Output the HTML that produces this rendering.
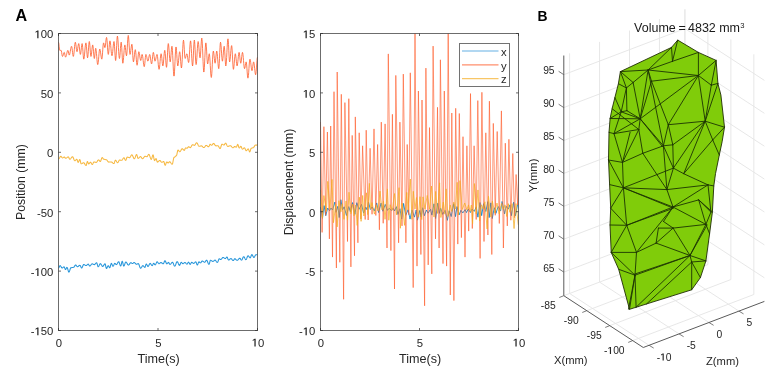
<!DOCTYPE html>
<html><head><meta charset="utf-8"><style>
html,body{margin:0;padding:0;background:#fff;}
body{width:774px;height:374px;overflow:hidden;}
svg{display:block;will-change:transform;}
text{font-family:"Liberation Sans", sans-serif;fill:#262626;}
.tk{font-size:11.3px;}
.lb{font-size:12.3px;}
.o1{fill:transparent;}
.pl{font-size:15.5px;font-weight:bold;fill:#000;}
.t3{font-size:10.3px;}
.l3{font-size:11.2px;}
</style></head><body>
<svg width="774" height="374" viewBox="0 0 774 374">
<clipPath id="cl"><rect x="58.5" y="33.5" width="199.0" height="297.0"/></clipPath><clipPath id="cr"><rect x="320.5" y="33.5" width="198.0" height="297.0"/></clipPath>
<g clip-path="url(#cl)">
<path d="M58.50 268.01 58.82 267.78 59.14 267.19 59.45 266.45 59.77 265.86 60.09 265.63 60.43 265.79 60.78 266.22 61.12 266.82 61.47 267.42 61.81 267.85 62.15 268.01 62.46 267.93 62.77 267.71 63.08 267.40 63.39 267.10 63.70 266.88 64.01 266.79 64.38 267.20 64.75 268.17 65.13 269.15 65.50 269.55 65.85 269.21 66.21 268.41 66.56 267.60 66.92 267.27 67.25 267.59 67.58 268.47 67.91 269.67 68.24 270.87 68.56 271.75 68.89 272.08 69.24 271.78 69.58 270.97 69.93 269.87 70.27 268.77 70.62 267.96 70.96 267.67 71.28 267.66 71.60 267.62 71.93 267.57 72.25 267.51 72.57 267.45 72.89 267.40 73.21 267.36 73.53 267.35 73.84 267.23 74.15 266.90 74.46 266.41 74.76 265.88 75.07 265.39 75.38 265.06 75.69 264.94 76.02 265.11 76.35 265.54 76.69 266.07 77.02 266.50 77.35 266.67 77.68 266.62 78.00 266.47 78.33 266.26 78.65 266.00 78.98 265.74 79.30 265.53 79.63 265.38 79.95 265.33 80.29 265.59 80.63 266.28 80.97 267.12 81.31 267.81 81.65 268.07 81.99 267.83 82.33 267.18 82.68 266.30 83.02 265.41 83.37 264.76 83.71 264.53 84.04 264.57 84.38 264.71 84.71 264.91 85.04 265.13 85.37 265.33 85.70 265.47 86.04 265.52 86.35 265.45 86.67 265.26 86.99 264.98 87.31 264.67 87.63 264.39 87.95 264.20 88.27 264.13 88.62 264.42 88.96 265.11 89.31 265.79 89.66 266.08 89.98 265.99 90.29 265.75 90.61 265.39 90.93 264.96 91.25 264.53 91.56 264.17 91.88 263.93 92.20 263.84 92.50 263.88 92.81 263.99 93.11 264.15 93.41 264.32 93.72 264.48 94.02 264.59 94.33 264.63 94.65 264.53 94.98 264.27 95.30 263.89 95.63 263.47 95.95 263.09 96.28 262.83 96.61 262.74 96.92 263.12 97.23 264.14 97.55 265.40 97.86 266.42 98.17 266.80 98.48 266.65 98.79 266.21 99.10 265.57 99.41 264.87 99.72 264.23 100.03 263.80 100.34 263.64 100.68 263.78 101.02 264.16 101.36 264.72 101.70 265.34 102.04 265.90 102.38 266.29 102.72 266.43 103.05 266.29 103.38 265.93 103.71 265.39 104.04 264.80 104.37 264.27 104.70 263.90 105.03 263.77 105.38 264.47 105.73 266.17 106.08 267.87 106.43 268.57 106.74 268.38 107.04 267.86 107.34 267.15 107.64 266.43 107.94 265.91 108.24 265.72 108.61 266.02 108.97 266.73 109.34 267.45 109.71 267.75 110.04 267.33 110.37 266.24 110.71 264.90 111.04 263.81 111.37 263.39 111.70 263.67 112.03 264.40 112.36 265.30 112.69 266.03 113.02 266.31 113.32 266.11 113.62 265.57 113.92 264.84 114.22 264.10 114.53 263.56 114.83 263.37 115.14 263.49 115.44 263.80 115.75 264.20 116.06 264.51 116.37 264.63 116.69 264.49 117.02 264.09 117.35 263.50 117.67 262.86 118.00 262.28 118.33 261.87 118.65 261.73 118.99 262.01 119.33 262.79 119.67 263.85 120.01 264.91 120.35 265.69 120.69 265.97 121.00 265.51 121.31 264.32 121.62 262.84 121.93 261.65 122.24 261.19 122.62 261.91 122.99 263.65 123.37 265.38 123.74 266.10 124.04 265.90 124.35 265.33 124.65 264.51 124.95 263.60 125.25 262.79 125.56 262.22 125.86 262.02 126.18 262.13 126.51 262.47 126.83 262.97 127.16 263.56 127.48 264.15 127.80 264.65 128.13 264.98 128.45 265.10 128.79 264.98 129.12 264.65 129.46 264.17 129.79 263.64 130.13 263.16 130.46 262.83 130.80 262.71 131.15 262.78 131.51 262.97 131.86 263.21 132.21 263.40 132.57 263.47 132.87 263.38 133.18 263.14 133.49 262.85 133.79 262.61 134.10 262.52 134.41 262.59 134.71 262.78 135.02 263.07 135.32 263.40 135.63 263.74 135.93 264.03 136.23 264.22 136.54 264.28 136.87 264.22 137.21 264.04 137.54 263.83 137.88 263.65 138.21 263.59 138.52 263.76 138.82 264.27 139.12 265.03 139.43 265.92 139.73 266.82 140.03 267.58 140.34 268.09 140.64 268.26 140.96 268.13 141.28 267.77 141.60 267.24 141.92 266.66 142.24 266.13 142.55 265.76 142.87 265.63 143.21 265.75 143.54 266.07 143.88 266.50 144.21 266.93 144.55 267.25 144.88 267.36 145.22 266.88 145.55 265.70 145.89 264.53 146.22 264.05 146.58 264.28 146.93 264.87 147.29 265.61 147.64 266.21 147.99 266.44 148.31 266.29 148.62 265.87 148.93 265.26 149.24 264.58 149.55 263.98 149.86 263.55 150.17 263.40 150.51 263.55 150.84 263.96 151.17 264.51 151.50 265.07 151.83 265.47 152.16 265.62 152.46 265.40 152.77 264.82 153.08 264.11 153.39 263.53 153.69 263.31 154.05 263.55 154.41 264.12 154.77 264.68 155.13 264.92 155.47 264.71 155.80 264.14 156.13 263.36 156.47 262.59 156.80 262.02 157.13 261.81 157.43 261.94 157.73 262.29 158.03 262.78 158.34 263.27 158.64 263.62 158.94 263.76 159.27 263.67 159.60 263.45 159.93 263.14 160.26 262.84 160.59 262.62 160.93 262.53 161.25 262.60 161.58 262.77 161.90 263.03 162.23 263.31 162.55 263.56 162.88 263.74 163.20 263.80 163.56 263.50 163.92 262.72 164.28 261.76 164.63 260.97 164.99 260.67 165.29 260.89 165.59 261.47 165.89 262.27 166.19 263.07 166.49 263.66 166.80 263.87 167.14 263.73 167.49 263.35 167.84 262.89 168.19 262.52 168.54 262.37 168.89 262.67 169.24 263.40 169.58 264.12 169.93 264.42 170.25 264.34 170.56 264.11 170.88 263.77 171.20 263.36 171.51 262.96 171.83 262.62 172.14 262.39 172.46 262.31 172.78 262.50 173.11 263.03 173.44 263.80 173.76 264.66 174.09 265.43 174.41 265.96 174.74 266.15 175.04 265.98 175.35 265.49 175.65 264.76 175.95 263.90 176.25 263.04 176.55 262.31 176.86 261.82 177.16 261.65 177.50 261.84 177.84 262.35 178.18 263.09 178.52 263.91 178.86 264.66 179.20 265.17 179.54 265.35 179.86 265.06 180.18 264.31 180.50 263.37 180.83 262.61 181.15 262.32 181.50 262.45 181.84 262.80 182.19 263.23 182.54 263.57 182.88 263.71 183.23 263.62 183.57 263.40 183.91 263.10 184.25 262.79 184.59 262.57 184.93 262.49 185.23 262.57 185.54 262.81 185.84 263.15 186.14 263.53 186.44 263.87 186.74 264.11 187.04 264.19 187.40 263.89 187.75 263.15 188.10 262.42 188.45 262.11 188.81 262.33 189.17 262.91 189.53 263.62 189.89 264.20 190.25 264.42 190.60 264.11 190.95 263.36 191.29 262.61 191.64 262.29 191.97 262.37 192.30 262.56 192.63 262.83 192.95 263.11 193.28 263.30 193.61 263.38 193.92 263.30 194.23 263.09 194.54 262.79 194.85 262.45 195.16 262.15 195.47 261.94 195.78 261.87 196.09 262.17 196.40 262.95 196.71 263.91 197.01 264.70 197.32 265.00 197.64 264.70 197.96 263.92 198.28 262.95 198.60 262.17 198.92 261.87 199.25 261.96 199.58 262.21 199.91 262.51 200.24 262.75 200.57 262.85 200.89 262.67 201.20 262.21 201.52 261.64 201.83 261.18 202.15 261.01 202.46 261.06 202.78 261.19 203.10 261.39 203.42 261.62 203.74 261.86 204.06 262.06 204.37 262.19 204.69 262.24 205.00 262.10 205.30 261.72 205.61 261.21 205.92 260.69 206.22 260.31 206.53 260.18 206.84 260.33 207.15 260.79 207.45 261.46 207.76 262.26 208.07 263.06 208.38 263.74 208.69 264.19 209.00 264.35 209.37 263.74 209.73 262.27 210.10 260.80 210.47 260.19 210.77 260.24 211.08 260.37 211.39 260.57 211.70 260.80 212.01 261.03 212.32 261.23 212.63 261.36 212.94 261.41 213.28 261.32 213.63 261.09 213.97 260.76 214.32 260.44 214.66 260.21 215.01 260.12 215.34 260.23 215.67 260.56 216.00 261.02 216.33 261.54 216.66 262.01 216.99 262.33 217.32 262.45 217.66 262.20 217.99 261.53 218.32 260.61 218.66 259.69 218.99 259.02 219.32 258.78 219.66 258.88 220.00 259.14 220.34 259.40 220.68 259.51 220.98 259.43 221.29 259.21 221.59 258.87 221.89 258.48 222.19 258.08 222.50 257.75 222.80 257.52 223.10 257.44 223.41 257.50 223.73 257.66 224.04 257.89 224.35 258.15 224.66 258.38 224.97 258.54 225.28 258.60 225.61 258.45 225.94 258.04 226.26 257.55 226.59 257.14 226.91 256.99 227.25 257.28 227.59 258.03 227.93 258.97 228.26 259.72 228.60 260.01 228.93 259.94 229.26 259.74 229.59 259.46 229.92 259.14 230.25 258.86 230.58 258.66 230.91 258.59 231.25 258.68 231.58 258.96 231.92 259.36 232.25 259.80 232.58 260.20 232.92 260.47 233.25 260.57 233.62 260.30 233.99 259.67 234.37 259.03 234.74 258.77 235.04 258.82 235.35 258.99 235.66 259.23 235.97 259.52 236.27 259.81 236.58 260.06 236.89 260.22 237.20 260.28 237.52 260.20 237.84 259.98 238.17 259.64 238.49 259.25 238.81 258.85 239.13 258.52 239.46 258.30 239.78 258.22 240.13 258.40 240.47 258.87 240.82 259.45 241.17 259.92 241.51 260.10 241.83 259.93 242.14 259.46 242.46 258.77 242.77 258.01 243.09 257.33 243.40 256.86 243.72 256.69 244.03 256.84 244.34 257.25 244.65 257.85 244.96 258.51 245.27 259.11 245.58 259.53 245.89 259.67 246.20 259.48 246.52 258.94 246.83 258.17 247.15 257.30 247.46 256.52 247.78 255.99 248.09 255.79 248.43 255.93 248.77 256.31 249.11 256.83 249.45 257.35 249.79 257.73 250.13 257.87 250.47 257.56 250.81 256.74 251.15 255.72 251.49 254.90 251.84 254.59 252.14 254.73 252.44 255.14 252.74 255.72 253.04 256.36 253.34 256.94 253.64 257.35 253.94 257.49 254.26 257.31 254.58 256.81 254.90 256.12 255.22 255.44 255.55 254.94 255.87 254.76 256.19 254.76 256.52 254.77 256.85 254.79 257.17 254.80 257.50 254.80" fill="none" stroke="#0e8ad6" stroke-width="1.05" stroke-linejoin="round" opacity="0.9"/>
<path d="M58.50 42.21 58.81 43.40 59.12 46.28 59.44 49.16 59.75 50.35 60.02 50.35 60.29 50.35 60.56 50.35 60.83 50.35 61.10 50.35 61.38 50.93 61.65 52.46 61.92 54.34 62.19 55.87 62.46 56.45 62.71 56.25 62.97 55.69 63.22 54.87 63.47 53.97 63.72 53.15 63.97 52.59 64.22 52.38 64.50 52.84 64.77 54.02 65.04 55.49 65.31 56.68 65.58 57.13 65.84 56.93 66.09 56.34 66.35 55.44 66.61 54.33 66.86 53.15 67.12 52.04 67.38 51.14 67.63 50.55 67.89 50.35 68.16 50.80 68.43 51.99 68.70 53.46 68.97 54.64 69.24 55.10 69.50 54.83 69.76 54.07 70.01 52.89 70.27 51.45 70.53 49.92 70.78 48.48 71.04 47.31 71.29 46.54 71.55 46.28 71.80 46.78 72.05 48.19 72.31 50.23 72.56 52.50 72.81 54.54 73.06 55.95 73.31 56.45 73.57 55.91 73.82 54.37 74.08 52.06 74.33 49.33 74.59 46.61 74.84 44.30 75.09 42.75 75.35 42.21 75.62 42.85 75.89 44.58 76.16 46.96 76.43 49.33 76.71 51.07 76.98 51.71 77.23 51.30 77.48 50.17 77.73 48.54 77.98 46.73 78.24 45.10 78.49 43.97 78.74 43.57 79.01 44.29 79.28 46.28 79.55 48.99 79.83 51.71 80.10 53.69 80.37 54.42 80.62 53.88 80.87 52.38 81.12 50.20 81.38 47.78 81.63 45.61 81.88 44.10 82.13 43.57 82.40 44.61 82.67 47.47 82.95 51.37 83.22 55.27 83.49 58.12 83.76 59.17 84.03 58.55 84.30 56.78 84.57 54.14 84.84 51.03 85.12 47.91 85.39 45.27 85.66 43.51 85.93 42.89 86.20 43.89 86.47 46.62 86.74 50.35 87.02 54.08 87.29 56.81 87.56 57.81 87.81 57.00 88.06 54.75 88.31 51.48 88.57 47.86 88.82 44.60 89.07 42.34 89.32 41.53 89.59 42.53 89.86 45.26 90.14 48.99 90.41 52.72 90.68 55.45 90.95 56.45 91.20 55.88 91.45 54.28 91.71 51.97 91.96 49.41 92.21 47.09 92.46 45.49 92.71 44.92 92.98 45.83 93.26 48.31 93.53 51.71 93.80 55.10 94.07 57.58 94.34 58.49 94.61 57.52 94.88 54.97 95.16 51.83 95.43 49.29 95.70 48.31 95.95 48.93 96.21 50.70 96.46 53.34 96.72 56.45 96.97 59.57 97.22 62.21 97.48 63.97 97.73 64.59 97.99 64.00 98.24 62.31 98.50 59.78 98.75 56.79 99.00 53.81 99.26 51.28 99.51 49.59 99.77 48.99 100.02 49.38 100.28 50.48 100.53 52.13 100.78 54.08 101.04 56.03 101.29 57.68 101.55 58.78 101.80 59.17 102.05 58.36 102.31 56.10 102.56 52.84 102.81 49.22 103.06 45.95 103.31 43.69 103.57 42.89 103.84 43.34 104.11 44.53 104.38 46.00 104.65 47.18 104.92 47.64 105.19 46.95 105.47 45.09 105.74 42.55 106.01 40.00 106.28 38.14 106.55 37.46 106.80 38.30 107.05 40.65 107.31 44.05 107.56 47.83 107.81 51.23 108.06 53.58 108.31 54.42 108.59 53.51 108.86 51.03 109.13 47.64 109.40 44.24 109.67 41.76 109.94 40.85 110.20 41.42 110.45 43.04 110.70 45.46 110.96 48.31 111.21 51.17 111.47 53.59 111.72 55.21 111.98 55.78 112.23 55.23 112.49 53.69 112.74 51.38 112.99 48.65 113.25 45.93 113.50 43.62 113.76 42.07 114.01 41.53 114.28 42.80 114.55 46.28 114.83 51.03 115.10 55.78 115.37 59.25 115.64 60.52 115.89 59.31 116.14 55.93 116.40 51.03 116.65 45.60 116.90 40.70 117.15 37.31 117.40 36.10 117.66 36.96 117.91 39.38 118.17 43.01 118.42 47.30 118.67 51.58 118.93 55.21 119.18 57.64 119.44 58.49 119.69 57.68 119.94 55.42 120.19 52.16 120.45 48.54 120.70 45.27 120.95 43.02 121.20 42.21 121.47 43.62 121.74 47.47 122.02 52.72 122.29 57.98 122.56 61.83 122.83 63.24 123.08 62.54 123.34 60.55 123.59 57.58 123.85 54.08 124.10 50.58 124.36 47.60 124.61 45.62 124.86 44.92 125.14 45.65 125.41 47.64 125.68 50.35 125.95 53.06 126.22 55.05 126.49 55.78 126.74 54.77 127.00 51.94 127.25 47.86 127.50 43.34 127.75 39.26 128.00 36.43 128.26 35.43 128.51 36.37 128.76 39.00 129.01 42.81 129.26 47.04 129.52 50.84 129.77 53.48 130.02 54.42 130.29 53.91 130.56 52.50 130.83 50.46 131.10 48.20 131.38 46.16 131.65 44.75 131.92 44.24 132.22 45.93 132.52 50.34 132.81 55.79 133.11 60.20 133.41 61.88 133.68 61.28 133.95 59.58 134.22 57.13 134.50 54.42 134.77 51.97 135.04 50.28 135.31 49.67 135.56 50.44 135.81 52.61 136.07 55.74 136.32 59.21 136.57 62.33 136.82 64.50 137.07 65.27 137.33 64.60 137.58 62.72 137.83 60.00 138.08 56.98 138.33 54.26 138.59 52.38 138.84 51.71 139.11 52.14 139.38 53.37 139.65 55.13 139.92 57.10 140.19 58.86 140.47 60.09 140.74 60.52 141.01 59.94 141.28 58.41 141.55 56.53 141.82 55.00 142.09 54.42 142.36 54.88 142.64 56.21 142.91 58.19 143.18 60.52 143.45 62.86 143.72 64.84 143.99 66.16 144.26 66.63 144.53 65.81 144.81 63.58 145.08 60.52 145.35 57.47 145.62 55.24 145.89 54.42 146.15 54.68 146.40 55.41 146.65 56.51 146.91 57.81 147.16 59.11 147.42 60.21 147.67 60.94 147.93 61.20 148.18 60.87 148.43 59.92 148.68 58.56 148.93 57.06 149.19 55.70 149.44 54.75 149.69 54.42 149.96 54.89 150.23 56.21 150.50 58.11 150.78 60.22 151.05 62.13 151.32 63.44 151.59 63.91 151.84 63.34 152.09 61.74 152.34 59.43 152.60 56.87 152.85 54.55 153.10 52.95 153.35 52.38 153.63 52.97 153.90 54.59 154.18 56.79 154.45 59.00 154.73 60.61 155.00 61.20 155.25 60.94 155.51 60.21 155.76 59.11 156.02 57.81 156.27 56.51 156.53 55.41 156.78 54.68 157.03 54.42 157.29 54.99 157.54 56.60 157.80 59.02 158.05 61.88 158.31 64.74 158.56 67.16 158.82 68.77 159.07 69.34 159.32 68.75 159.58 67.06 159.83 64.53 160.09 61.54 160.34 58.56 160.60 56.02 160.85 54.33 161.10 53.74 161.36 54.34 161.61 56.04 161.86 58.49 162.11 61.20 162.36 63.65 162.62 65.35 162.87 65.95 163.14 65.18 163.41 63.01 163.68 59.88 163.95 56.41 164.22 53.29 164.50 51.12 164.77 50.35 165.02 51.19 165.27 53.54 165.52 56.94 165.78 60.71 166.03 64.11 166.28 66.47 166.53 67.31 166.78 66.13 167.03 62.84 167.29 58.08 167.54 52.79 167.79 48.04 168.04 44.74 168.29 43.57 168.57 44.47 168.84 47.01 169.11 50.69 169.38 54.76 169.65 58.43 169.92 60.97 170.19 61.88 170.45 61.11 170.70 58.94 170.95 55.82 171.20 52.34 171.45 49.22 171.71 47.05 171.96 46.28 172.21 47.41 172.47 50.65 172.72 55.49 172.97 61.20 173.23 66.91 173.48 71.75 173.74 74.99 173.99 76.12 174.25 75.01 174.50 71.85 174.76 67.12 175.01 61.54 175.26 55.96 175.52 51.23 175.77 48.07 176.03 46.96 176.28 47.90 176.53 50.53 176.78 54.34 177.03 58.57 177.29 62.37 177.54 65.01 177.79 65.95 178.06 65.24 178.33 63.27 178.60 60.41 178.88 57.24 179.15 54.39 179.42 52.41 179.69 51.71 179.94 52.51 180.19 54.77 180.45 58.03 180.70 61.66 180.95 64.92 181.20 67.18 181.45 67.98 181.71 66.93 181.96 63.91 182.22 59.40 182.47 54.08 182.73 48.76 182.98 44.25 183.23 41.23 183.49 40.17 183.76 41.40 184.03 44.75 184.30 49.33 184.57 53.91 184.84 57.26 185.12 58.49 185.37 58.25 185.62 57.59 185.87 56.64 186.12 55.59 186.38 54.63 186.63 53.98 186.88 53.74 187.13 54.18 187.38 55.40 187.64 57.17 187.89 59.13 188.14 60.90 188.39 62.12 188.64 62.56 188.91 61.48 189.19 58.47 189.46 54.12 189.73 49.29 190.00 44.94 190.27 41.93 190.54 40.85 190.80 41.81 191.05 44.53 191.31 48.60 191.56 53.40 191.81 58.20 192.07 62.27 192.32 64.99 192.58 65.95 192.83 64.67 193.08 61.10 193.33 55.93 193.59 50.19 193.84 45.03 194.09 41.45 194.34 40.17 194.59 41.38 194.84 44.77 195.10 49.67 195.35 55.10 195.60 60.00 195.85 63.38 196.10 64.59 196.36 63.72 196.61 61.22 196.87 57.47 197.12 53.06 197.38 48.65 197.63 44.91 197.89 42.41 198.14 41.53 198.41 42.34 198.68 44.60 198.95 47.86 199.22 51.48 199.50 54.75 199.77 57.00 200.04 57.81 200.29 56.84 200.54 54.11 200.79 50.16 201.05 45.79 201.30 41.84 201.55 39.11 201.80 38.14 202.06 39.43 202.31 43.11 202.57 48.61 202.82 55.10 203.07 61.59 203.33 67.09 203.58 70.76 203.84 72.05 204.09 70.94 204.35 67.78 204.60 63.05 204.85 57.47 205.11 51.89 205.36 47.16 205.62 44.00 205.87 42.89 206.12 43.93 206.38 46.85 206.63 51.06 206.88 55.74 207.13 59.96 207.38 62.87 207.64 63.91 207.91 63.23 208.18 61.37 208.45 58.83 208.72 56.28 208.99 54.42 209.26 53.74 209.52 54.64 209.77 57.22 210.03 61.07 210.28 65.61 210.54 70.15 210.79 74.00 211.04 76.58 211.30 77.48 211.55 76.47 211.81 73.61 212.06 69.32 212.32 64.25 212.57 59.19 212.82 54.90 213.08 52.03 213.33 51.03 213.59 51.63 213.84 53.33 214.09 55.77 214.34 58.49 214.59 60.94 214.84 62.63 215.10 63.24 215.37 62.42 215.64 60.18 215.91 57.13 216.18 54.08 216.45 51.84 216.72 51.03 216.98 51.70 217.23 53.61 217.49 56.47 217.74 59.84 218.00 63.22 218.25 66.08 218.51 67.99 218.76 68.66 219.01 67.35 219.26 63.68 219.52 58.38 219.77 52.49 220.02 47.19 220.27 43.52 220.52 42.21 220.79 43.15 221.07 45.78 221.34 49.59 221.61 53.82 221.88 57.63 222.15 60.26 222.42 61.20 222.67 60.46 222.93 58.39 223.18 55.40 223.43 52.08 223.68 49.09 223.93 47.02 224.19 46.28 224.46 47.60 224.73 51.20 225.00 56.11 225.27 61.03 225.54 64.63 225.81 65.95 226.09 64.92 226.36 61.98 226.63 57.58 226.90 52.38 227.17 47.19 227.44 42.79 227.71 39.85 227.98 38.82 228.26 40.36 228.53 44.58 228.80 50.35 229.07 56.11 229.34 60.33 229.61 61.88 229.87 61.26 230.12 59.50 230.38 56.86 230.63 53.74 230.88 50.63 231.14 47.98 231.39 46.22 231.65 45.60 231.90 46.78 232.15 50.07 232.40 54.83 232.66 60.11 232.91 64.87 233.16 68.17 233.41 69.34 233.68 68.57 233.95 66.40 234.22 63.28 234.50 59.80 234.77 56.68 235.04 54.51 235.31 53.74 235.56 54.34 235.81 56.04 236.07 58.49 236.32 61.20 236.57 63.65 236.82 65.35 237.07 65.95 237.33 65.43 237.58 63.96 237.84 61.76 238.09 59.17 238.35 56.57 238.60 54.37 238.85 52.90 239.11 52.38 239.38 53.11 239.65 55.10 239.92 57.81 240.19 60.52 240.47 62.51 240.74 63.24 240.99 62.70 241.24 61.19 241.49 59.02 241.74 56.60 242.00 54.43 242.25 52.92 242.50 52.38 242.75 53.00 243.01 54.77 243.26 57.41 243.52 60.52 243.77 63.64 244.03 66.28 244.28 68.04 244.53 68.66 244.81 68.21 245.08 66.97 245.35 65.27 245.62 63.58 245.89 62.33 246.16 61.88 246.41 62.69 246.67 64.94 246.92 68.21 247.17 71.83 247.42 75.09 247.67 77.35 247.93 78.16 248.18 77.44 248.44 75.38 248.69 72.30 248.94 68.66 249.20 65.03 249.45 61.95 249.71 59.89 249.96 59.17 250.22 59.61 250.47 60.86 250.72 62.73 250.98 64.93 251.23 67.14 251.49 69.01 251.74 70.26 252.00 70.70 252.27 70.11 252.54 68.49 252.81 66.29 253.08 64.08 253.35 62.47 253.62 61.88 253.88 62.37 254.13 63.77 254.39 65.86 254.64 68.32 254.90 70.79 255.15 72.88 255.40 74.28 255.66 74.77 255.92 73.89 256.18 71.45 256.45 67.91 256.71 63.99 256.97 60.45 257.24 58.01 257.50 57.13" fill="none" stroke="#ff5a28" stroke-width="1.0" stroke-linejoin="round" opacity="0.8"/>
<path d="M58.50 158.99 58.84 158.86 59.18 158.48 59.52 157.95 59.85 157.35 60.19 156.81 60.53 156.44 60.87 156.31 61.20 156.46 61.53 156.87 61.86 157.37 62.20 157.77 62.53 157.92 62.89 157.84 63.24 157.60 63.60 157.32 63.96 157.08 64.32 156.99 64.65 157.19 64.98 157.66 65.32 158.13 65.65 158.33 65.98 158.27 66.31 158.11 66.63 157.87 66.96 157.59 67.29 157.31 67.62 157.08 67.95 156.92 68.28 156.86 68.60 157.09 68.91 157.70 69.23 158.44 69.55 159.05 69.87 159.28 70.19 159.18 70.52 158.91 70.84 158.50 71.17 158.01 71.49 157.53 71.81 157.12 72.14 156.85 72.46 156.75 72.77 156.90 73.07 157.34 73.37 157.99 73.67 158.76 73.98 159.53 74.28 160.19 74.58 160.62 74.88 160.78 75.21 160.67 75.53 160.40 75.85 160.02 76.18 159.65 76.50 159.37 76.82 159.27 77.16 159.72 77.50 160.81 77.84 161.90 78.18 162.35 78.50 162.08 78.83 161.37 79.16 160.49 79.49 159.78 79.81 159.51 80.15 160.14 80.49 161.67 80.83 163.19 81.17 163.83 81.48 163.79 81.78 163.67 82.09 163.49 82.40 163.28 82.70 163.07 83.01 162.89 83.32 162.77 83.62 162.73 83.93 162.83 84.25 163.13 84.56 163.58 84.87 164.11 85.18 164.63 85.49 165.08 85.80 165.38 86.11 165.49 86.44 164.90 86.76 163.47 87.08 162.05 87.41 161.46 87.72 161.82 88.04 162.68 88.36 163.53 88.68 163.89 88.99 163.78 89.30 163.48 89.61 163.07 89.92 162.66 90.23 162.36 90.54 162.25 90.88 162.47 91.22 163.05 91.57 163.76 91.91 164.33 92.25 164.55 92.59 164.30 92.93 163.65 93.27 162.84 93.61 162.19 93.95 161.94 94.27 161.96 94.58 162.03 94.90 162.12 95.22 162.22 95.54 162.32 95.85 162.38 96.17 162.40 96.51 162.28 96.84 161.93 97.18 161.42 97.52 160.86 97.85 160.35 98.19 160.00 98.53 159.88 98.87 160.03 99.21 160.44 99.55 160.94 99.89 161.35 100.23 161.50 100.56 161.24 100.89 160.52 101.21 159.54 101.54 158.56 101.87 157.84 102.19 157.58 102.51 157.74 102.83 158.16 103.15 158.68 103.46 159.10 103.78 159.26 104.10 159.28 104.42 159.33 104.73 159.41 105.05 159.51 105.37 159.60 105.69 159.69 106.01 159.74 106.32 159.76 106.63 159.85 106.93 160.10 107.23 160.48 107.53 160.93 107.84 161.38 108.14 161.76 108.44 162.01 108.74 162.10 109.06 162.10 109.39 162.09 109.71 162.07 110.03 162.05 110.35 162.03 110.67 162.02 110.99 162.01 111.31 162.00 111.63 162.06 111.95 162.23 112.26 162.49 112.58 162.79 112.90 163.09 113.22 163.35 113.54 163.52 113.86 163.58 114.17 163.26 114.49 162.42 114.81 161.38 115.13 160.54 115.45 160.21 115.76 160.34 116.08 160.69 116.39 161.19 116.70 161.74 117.01 162.24 117.33 162.59 117.64 162.72 117.96 162.54 118.27 162.05 118.59 161.39 118.91 160.73 119.22 160.25 119.54 160.07 119.85 160.08 120.15 160.11 120.46 160.15 120.76 160.19 121.07 160.23 121.38 160.25 121.68 160.26 122.00 160.14 122.31 159.79 122.63 159.29 122.95 158.73 123.26 158.23 123.58 157.88 123.89 157.76 124.25 158.01 124.61 158.67 124.96 159.48 125.32 160.13 125.68 160.39 125.98 160.07 126.29 159.26 126.59 158.25 126.90 157.43 127.21 157.12 127.54 157.14 127.88 157.22 128.22 157.33 128.55 157.44 128.89 157.55 129.23 157.62 129.56 157.65 129.88 157.51 130.20 157.12 130.53 156.55 130.85 155.92 131.17 155.35 131.49 154.96 131.81 154.82 132.12 154.97 132.44 155.41 132.76 156.05 133.08 156.82 133.40 157.58 133.72 158.23 134.04 158.66 134.36 158.81 134.68 158.59 135.00 157.99 135.32 157.11 135.65 156.13 135.97 155.25 136.29 154.64 136.61 154.43 136.98 155.01 137.35 156.41 137.72 157.81 138.09 158.40 138.39 158.33 138.70 158.13 139.00 157.84 139.30 157.50 139.60 157.16 139.91 156.87 140.21 156.68 140.51 156.61 140.85 156.75 141.19 157.12 141.52 157.64 141.86 158.15 142.20 158.53 142.54 158.66 142.86 158.57 143.18 158.32 143.50 157.93 143.82 157.48 144.15 157.02 144.47 156.64 144.79 156.38 145.11 156.29 145.41 156.32 145.72 156.39 146.02 156.49 146.32 156.59 146.63 156.66 146.93 156.69 147.24 156.53 147.54 156.10 147.85 155.52 148.16 154.93 148.46 154.50 148.77 154.35 149.09 154.54 149.41 155.08 149.72 155.90 150.04 156.86 150.36 157.82 150.68 158.64 151.00 159.19 151.31 159.38 151.66 158.94 152.00 157.81 152.34 156.41 152.68 155.27 153.03 154.84 153.33 155.39 153.64 156.83 153.94 158.62 154.25 160.06 154.55 160.61 154.92 160.31 155.29 159.57 155.66 158.84 156.03 158.54 156.38 159.06 156.72 160.32 157.06 161.58 157.40 162.10 157.74 162.02 158.09 161.80 158.43 161.47 158.77 161.11 159.11 160.78 159.46 160.55 159.80 160.47 160.13 160.59 160.46 160.93 160.79 161.38 161.12 161.84 161.46 162.17 161.79 162.29 162.11 162.24 162.43 162.09 162.76 161.90 163.08 161.70 163.40 161.55 163.73 161.50 164.08 162.06 164.43 163.41 164.79 164.76 165.14 165.32 165.47 165.00 165.80 164.16 166.13 163.12 166.46 162.28 166.79 161.95 167.12 162.10 167.46 162.46 167.80 162.82 168.13 162.97 168.44 162.84 168.75 162.52 169.05 162.12 169.36 161.80 169.67 161.67 169.98 161.77 170.30 162.06 170.62 162.48 170.93 162.98 171.25 163.47 171.57 163.90 171.88 164.18 172.20 164.28 172.52 163.81 172.84 162.53 173.16 160.77 173.48 159.02 173.80 157.74 174.12 157.27 174.43 157.20 174.75 157.00 175.06 156.70 175.37 156.38 175.68 156.08 175.99 155.88 176.30 155.81 176.65 155.26 176.99 153.83 177.34 152.06 177.68 150.63 178.03 150.08 178.33 150.20 178.63 150.51 178.94 150.93 179.24 151.36 179.54 151.67 179.84 151.78 180.17 151.63 180.49 151.20 180.82 150.59 181.14 149.91 181.47 149.29 181.79 148.86 182.12 148.71 182.43 148.79 182.75 149.02 183.06 149.36 183.38 149.72 183.69 150.05 184.01 150.28 184.33 150.36 184.64 150.00 184.96 149.13 185.28 148.26 185.60 147.90 185.97 147.95 186.34 148.06 186.70 148.17 187.07 148.21 187.38 148.07 187.69 147.68 188.00 147.21 188.31 146.83 188.62 146.68 188.93 146.77 189.24 147.02 189.56 147.32 189.87 147.56 190.18 147.65 190.49 147.54 190.80 147.22 191.11 146.75 191.42 146.18 191.73 145.62 192.04 145.14 192.35 144.82 192.66 144.71 193.01 144.78 193.37 144.95 193.72 145.15 194.07 145.32 194.43 145.39 194.74 145.26 195.05 144.89 195.37 144.37 195.68 143.78 195.99 143.25 196.31 142.89 196.62 142.76 196.94 142.90 197.26 143.28 197.58 143.86 197.90 144.55 198.22 145.23 198.54 145.81 198.86 146.19 199.17 146.33 199.49 146.31 199.81 146.24 200.13 146.14 200.45 146.03 200.77 145.93 201.09 145.86 201.41 145.84 201.75 145.93 202.09 146.16 202.43 146.51 202.77 146.89 203.12 147.24 203.46 147.48 203.80 147.56 204.11 147.48 204.41 147.24 204.72 146.89 205.03 146.48 205.33 146.06 205.64 145.71 205.95 145.48 206.25 145.39 206.58 145.46 206.90 145.65 207.22 145.93 207.54 146.24 207.87 146.51 208.19 146.70 208.51 146.77 208.85 146.54 209.19 145.92 209.53 145.15 209.87 144.54 210.21 144.30 210.55 144.44 210.88 144.78 211.21 145.13 211.55 145.27 211.88 145.14 212.21 144.80 212.54 144.33 212.88 143.87 213.21 143.52 213.54 143.40 213.84 143.49 214.14 143.76 214.44 144.16 214.74 144.64 215.04 145.11 215.34 145.51 215.64 145.78 215.94 145.87 216.28 145.87 216.62 145.85 216.96 145.84 217.30 145.82 217.63 145.81 217.97 145.80 218.32 145.98 218.67 146.48 219.01 147.16 219.36 147.84 219.71 148.34 220.05 148.52 220.39 148.23 220.72 147.43 221.05 146.35 221.38 145.26 221.71 144.47 222.04 144.18 222.36 144.24 222.68 144.41 223.01 144.63 223.33 144.86 223.65 145.02 223.98 145.08 224.30 144.90 224.62 144.41 224.94 143.81 225.26 143.33 225.58 143.14 225.90 143.31 226.21 143.76 226.52 144.41 226.83 145.13 227.14 145.78 227.46 146.23 227.77 146.40 228.10 146.37 228.42 146.29 228.75 146.18 229.08 146.04 229.41 145.91 229.73 145.80 230.06 145.72 230.39 145.69 230.71 145.77 231.03 145.99 231.35 146.33 231.67 146.72 232.00 147.11 232.32 147.44 232.64 147.67 232.96 147.75 233.27 147.66 233.58 147.42 233.90 147.09 234.21 146.77 234.52 146.53 234.83 146.44 235.17 146.56 235.50 146.84 235.83 147.12 236.16 147.24 236.48 146.97 236.81 146.27 237.13 145.40 237.45 144.70 237.77 144.43 238.14 144.96 238.51 146.24 238.89 147.52 239.26 148.05 239.58 147.88 239.90 147.44 240.22 146.90 240.55 146.46 240.87 146.30 241.17 146.57 241.48 147.29 241.79 148.18 242.09 148.90 242.40 149.18 242.72 149.09 243.05 148.85 243.37 148.52 243.70 148.19 244.02 147.95 244.35 147.87 244.66 148.06 244.98 148.58 245.29 149.29 245.61 150.00 245.92 150.53 246.24 150.72 246.56 150.59 246.88 150.26 247.20 149.79 247.53 149.33 247.85 149.00 248.17 148.87 248.48 149.16 248.79 149.90 249.10 150.82 249.40 151.57 249.71 151.86 250.03 151.50 250.36 150.58 250.68 149.44 251.00 148.52 251.32 148.17 251.66 148.13 252.01 148.03 252.35 147.90 252.69 147.80 253.03 147.76 253.35 147.65 253.67 147.36 253.99 146.92 254.30 146.40 254.62 145.88 254.94 145.44 255.26 145.15 255.58 145.05 255.88 145.06 256.18 145.09 256.48 145.12 256.78 145.15 257.08 145.16 257.29 144.83 257.50 144.50" fill="none" stroke="#f5ac1e" stroke-width="1.05" stroke-linejoin="round" opacity="0.85"/>
</g>
<g clip-path="url(#cr)">
<path d="M320.50 207.19 322.48 218.22 324.05 205.56 325.75 215.69 327.70 208.03 329.61 210.78 330.90 208.04 332.58 210.04 334.83 202.07 336.09 212.29 337.89 206.24 339.21 217.56 340.83 199.70 342.60 209.82 344.16 206.80 346.45 215.45 348.75 206.54 350.37 211.73 352.54 202.58 354.88 214.30 356.79 202.69 359.03 209.33 361.55 204.40 363.62 213.09 365.79 207.00 367.12 209.90 368.52 202.11 370.37 209.49 372.14 206.91 374.36 210.80 376.71 202.93 378.55 212.53 381.10 203.05 382.89 211.23 385.25 204.42 387.40 210.37 389.21 208.27 391.15 210.42 393.24 208.39 394.57 210.93 396.35 206.67 397.91 214.45 399.94 208.70 401.67 219.07 403.56 203.43 405.69 215.39 408.09 209.73 410.04 219.10 412.00 210.02 414.47 217.12 416.20 210.00 417.46 220.17 419.79 210.36 421.23 217.10 422.65 207.71 424.36 215.71 426.44 209.99 428.06 213.17 430.56 209.17 431.87 215.14 433.96 203.83 435.62 218.56 437.74 203.24 439.41 213.36 440.65 208.25 442.67 214.36 445.08 210.39 447.37 220.34 449.18 210.78 451.17 216.55 453.66 203.75 455.49 216.61 456.98 206.58 459.25 214.80 460.93 210.19 462.74 213.03 465.17 209.57 466.42 212.64 468.26 209.05 470.45 212.48 471.93 209.07 474.23 211.36 476.29 206.78 477.91 217.16 480.02 202.56 481.67 215.64 483.58 203.71 485.83 211.46 487.86 201.62 489.22 217.57 490.82 202.85 492.29 218.52 494.25 207.71 496.01 213.27 498.14 206.49 500.63 210.94 502.10 201.46 504.57 213.89 506.10 206.31 508.32 209.11 509.92 204.84 511.36 215.66 513.67 202.17 515.34 215.80 517.60 204.76" fill="none" stroke="#0b80c8" stroke-width="1.0" stroke-linejoin="round" opacity="0.85"/>
<path d="M320.50 122.00 322.10 232.40 323.90 126.70 325.65 215.29 327.40 132.00 329.40 238.90 330.70 126.00 332.50 257.10 334.00 91.70 336.40 268.00 337.20 72.00 339.80 262.30 341.30 94.30 343.60 299.30 344.90 102.60 347.50 241.50 348.80 98.70 350.90 266.90 352.20 135.40 354.50 255.80 355.30 116.90 357.90 242.80 359.20 132.80 360.90 218.99 362.60 145.80 365.20 219.50 366.20 130.20 368.15 220.01 370.10 148.30 372.05 214.29 374.00 128.90 375.80 215.48 377.60 144.50 379.40 229.80 381.30 122.10 383.20 223.28 385.10 123.90 387.00 248.00 388.30 53.90 390.90 250.60 392.40 114.30 394.50 289.00 395.80 75.40 398.60 242.80 399.90 122.10 402.00 225.90 403.30 74.10 405.90 242.80 407.20 144.50 408.75 214.70 410.30 72.80 413.20 287.60 415.00 33.50 417.00 266.10 418.40 91.00 420.90 254.50 422.00 100.00 424.60 305.80 425.90 68.10 428.20 264.90 429.50 127.60 431.80 273.90 433.10 46.10 435.50 238.90 437.50 107.30 439.10 248.00 440.40 59.80 443.00 263.60 444.30 91.00 446.60 266.10 448.20 33.50 450.30 295.00 451.80 113.00 453.90 300.60 455.70 108.30 457.80 244.10 459.30 113.50 461.40 237.60 463.00 136.70 465.00 257.10 466.90 145.80 468.70 231.10 470.50 93.60 472.30 228.50 474.10 145.80 476.20 219.50 477.80 100.60 480.10 258.40 481.90 92.30 484.00 241.50 485.80 132.80 487.90 235.00 489.40 101.20 491.80 254.50 493.30 123.40 495.25 215.30 497.20 131.50 499.30 223.48 501.40 110.90 503.40 248.00 505.30 143.20 507.30 225.90 508.90 139.30 510.85 220.22 512.80 153.50 514.45 217.69 516.10 174.50 517.60 205.00 519.50 150.00" fill="none" stroke="#ff5a28" stroke-width="1.0" stroke-linejoin="round" opacity="0.62"/>
<path d="M320.50 189.90 322.53 217.79 323.88 195.57 326.40 211.54 327.78 181.33 329.90 209.41 332.02 179.41 333.53 222.69 335.68 204.05 337.15 226.87 338.83 200.70 340.93 211.79 342.16 203.65 344.01 219.39 346.04 200.94 347.52 220.18 349.00 192.23 350.88 213.81 352.62 204.22 354.07 215.89 355.67 205.00 357.15 225.42 359.32 197.15 361.08 221.35 362.66 195.49 363.90 216.00 366.42 192.82 367.75 214.67 369.39 183.37 370.65 209.00 372.00 202.59 374.40 214.07 376.50 204.97 377.96 210.97 380.02 191.13 382.01 209.94 383.48 201.11 385.04 219.35 387.45 188.90 388.84 220.26 390.09 204.68 392.25 210.32 394.57 193.56 396.65 214.88 399.08 187.64 400.35 228.27 402.15 203.22 404.53 225.33 406.78 192.38 408.02 209.91 410.32 179.09 411.92 219.38 413.30 191.29 415.00 209.04 416.46 197.52 418.32 217.13 420.01 196.66 421.73 219.62 422.97 196.89 424.97 209.02 427.21 195.44 429.70 209.36 431.49 186.10 433.97 217.07 435.66 191.44 437.49 213.45 439.62 182.84 440.86 217.49 443.30 202.01 444.84 214.18 446.11 188.87 447.98 216.47 450.24 205.00 451.72 211.46 453.76 202.14 455.35 209.00 457.15 182.33 458.41 214.87 459.91 180.59 462.21 209.50 464.72 203.01 466.86 209.80 468.48 204.94 470.10 211.36 471.36 205.00 472.60 223.72 474.38 183.54 476.24 213.95 477.96 189.94 479.65 220.98 481.39 204.72 483.17 209.00 484.91 201.78 487.08 228.94 488.51 196.26 490.85 216.98 492.39 201.15 494.85 213.17 496.97 203.04 499.25 214.02 501.52 203.42 503.05 209.33 505.07 204.90 506.76 216.50 508.35 203.66 509.89 212.32 512.12 203.61 514.05 228.55 515.94 203.54 518.28 224.75" fill="none" stroke="#f5ac1e" stroke-width="0.9" stroke-linejoin="round" opacity="0.8"/>
</g>
<rect x="58.5" y="33.5" width="199.0" height="297.0" fill="none" stroke="#262626" stroke-width="1" opacity="0.68"/>
<path d="M58.5 33.50h2.5M257.5 33.50h-2.5" stroke="#262626" stroke-width="1" opacity="0.68"/>
<text x="53.40" y="38.30" text-anchor="end" class="tk"><tspan class="o1">1</tspan>00</text>
<path d="M58.5 92.90h2.5M257.5 92.90h-2.5" stroke="#262626" stroke-width="1" opacity="0.68"/>
<text x="53.40" y="97.70" text-anchor="end" class="tk">50</text>
<path d="M58.5 152.30h2.5M257.5 152.30h-2.5" stroke="#262626" stroke-width="1" opacity="0.68"/>
<text x="53.40" y="157.10" text-anchor="end" class="tk">0</text>
<path d="M58.5 211.70h2.5M257.5 211.70h-2.5" stroke="#262626" stroke-width="1" opacity="0.68"/>
<text x="53.40" y="216.50" text-anchor="end" class="tk">-50</text>
<path d="M58.5 271.10h2.5M257.5 271.10h-2.5" stroke="#262626" stroke-width="1" opacity="0.68"/>
<text x="53.40" y="275.90" text-anchor="end" class="tk">-<tspan class="o1">1</tspan>00</text>
<path d="M58.5 330.50h2.5M257.5 330.50h-2.5" stroke="#262626" stroke-width="1" opacity="0.68"/>
<text x="53.40" y="335.30" text-anchor="end" class="tk">-<tspan class="o1">1</tspan>50</text>
<path d="M58.50 330.5v-2.5M58.50 33.5v2.5" stroke="#262626" stroke-width="1" opacity="0.68"/>
<text x="59.00" y="346.50" text-anchor="middle" class="tk">0</text>
<path d="M158.00 330.5v-2.5M158.00 33.5v2.5" stroke="#262626" stroke-width="1" opacity="0.68"/>
<text x="158.50" y="346.50" text-anchor="middle" class="tk">5</text>
<path d="M257.50 330.5v-2.5M257.50 33.5v2.5" stroke="#262626" stroke-width="1" opacity="0.68"/>
<text x="258.00" y="346.50" text-anchor="middle" class="tk"><tspan class="o1">1</tspan>0</text>
<text x="158.60" y="362.8" text-anchor="middle" class="lb" style="font-size:12.6px">Time(s)</text>
<text transform="translate(24.8,182.00) rotate(-90)" text-anchor="middle" class="lb">Position (mm)</text>
<rect x="320.5" y="33.5" width="198.0" height="297.0" fill="none" stroke="#262626" stroke-width="1" opacity="0.68"/>
<path d="M320.5 33.50h2.5M518.5 33.50h-2.5" stroke="#262626" stroke-width="1" opacity="0.68"/>
<text x="315.40" y="38.30" text-anchor="end" class="tk"><tspan class="o1">1</tspan>5</text>
<path d="M320.5 92.90h2.5M518.5 92.90h-2.5" stroke="#262626" stroke-width="1" opacity="0.68"/>
<text x="315.40" y="97.70" text-anchor="end" class="tk"><tspan class="o1">1</tspan>0</text>
<path d="M320.5 152.30h2.5M518.5 152.30h-2.5" stroke="#262626" stroke-width="1" opacity="0.68"/>
<text x="315.40" y="157.10" text-anchor="end" class="tk">5</text>
<path d="M320.5 211.70h2.5M518.5 211.70h-2.5" stroke="#262626" stroke-width="1" opacity="0.68"/>
<text x="315.40" y="216.50" text-anchor="end" class="tk">0</text>
<path d="M320.5 271.10h2.5M518.5 271.10h-2.5" stroke="#262626" stroke-width="1" opacity="0.68"/>
<text x="315.40" y="275.90" text-anchor="end" class="tk">-5</text>
<path d="M320.5 330.50h2.5M518.5 330.50h-2.5" stroke="#262626" stroke-width="1" opacity="0.68"/>
<text x="315.40" y="335.30" text-anchor="end" class="tk">-<tspan class="o1">1</tspan>0</text>
<path d="M320.50 330.5v-2.5M320.50 33.5v2.5" stroke="#262626" stroke-width="1" opacity="0.68"/>
<text x="321.00" y="346.50" text-anchor="middle" class="tk">0</text>
<path d="M419.50 330.5v-2.5M419.50 33.5v2.5" stroke="#262626" stroke-width="1" opacity="0.68"/>
<text x="420.00" y="346.50" text-anchor="middle" class="tk">5</text>
<path d="M518.50 330.5v-2.5M518.50 33.5v2.5" stroke="#262626" stroke-width="1" opacity="0.68"/>
<text x="519.00" y="346.50" text-anchor="middle" class="tk"><tspan class="o1">1</tspan>0</text>
<text x="420.10" y="362.8" text-anchor="middle" class="lb" style="font-size:12.6px">Time(s)</text>
<text transform="translate(292.8,182.00) rotate(-90)" text-anchor="middle" class="lb">Displacement (mm)</text>
<rect x="459.5" y="43.5" width="50" height="43" fill="#fff" stroke="none"/>
<rect x="459.5" y="43.5" width="50" height="43" fill="none" stroke="#262626" stroke-width="1" opacity="0.65"/>
<path d="M462 51.0H498.5" stroke="#1a8ad6" stroke-width="1.2" opacity="0.68"/>
<text x="501" y="55.8" class="tk">x</text>
<path d="M462 64.8H498.5" stroke="#ff5a28" stroke-width="1.2" opacity="0.68"/>
<text x="501" y="69.6" class="tk">y</text>
<path d="M462 78.6H498.5" stroke="#f5ac1e" stroke-width="1.2" opacity="0.68"/>
<text x="501" y="83.4" class="tk">z</text>
<text transform="translate(15.5,21.2) scale(0.96,1)" style="font-size:16.8px" class="pl">A</text>
<text transform="translate(537.4,21.1) scale(0.9,1)" style="font-size:15.4px" class="pl">B</text>
<path d="M563.80 295.70L684.92 249.60" stroke="#e4e4e4" stroke-width="0.9"/>
<path d="M586.77 310.68L707.89 264.57" stroke="#e4e4e4" stroke-width="0.9"/>
<path d="M609.74 325.65L730.86 279.55" stroke="#e4e4e4" stroke-width="0.9"/>
<path d="M632.71 340.62L753.83 294.52" stroke="#e4e4e4" stroke-width="0.9"/>
<path d="M649.09 345.30L569.61 293.49" stroke="#e4e4e4" stroke-width="0.9"/>
<path d="M679.04 333.90L599.56 282.09" stroke="#e4e4e4" stroke-width="0.9"/>
<path d="M708.99 322.50L629.51 270.69" stroke="#e4e4e4" stroke-width="0.9"/>
<path d="M738.94 311.10L659.46 259.29" stroke="#e4e4e4" stroke-width="0.9"/>
<path d="M563.80 272.08L684.92 225.98" stroke="#e4e4e4" stroke-width="0.9"/>
<path d="M563.80 239.18L684.92 193.08" stroke="#e4e4e4" stroke-width="0.9"/>
<path d="M563.80 206.28L684.92 160.18" stroke="#e4e4e4" stroke-width="0.9"/>
<path d="M563.80 173.38L684.92 127.28" stroke="#e4e4e4" stroke-width="0.9"/>
<path d="M563.80 140.48L684.92 94.38" stroke="#e4e4e4" stroke-width="0.9"/>
<path d="M563.80 107.58L684.92 61.48" stroke="#e4e4e4" stroke-width="0.9"/>
<path d="M563.80 74.68L684.92 28.58" stroke="#e4e4e4" stroke-width="0.9"/>
<path d="M569.61 293.49L569.61 53.32" stroke="#e4e4e4" stroke-width="0.9"/>
<path d="M599.56 282.09L599.56 41.92" stroke="#e4e4e4" stroke-width="0.9"/>
<path d="M629.51 270.69L629.51 30.52" stroke="#e4e4e4" stroke-width="0.9"/>
<path d="M659.46 259.29L659.46 19.12" stroke="#e4e4e4" stroke-width="0.9"/>
<path d="M764.39 277.79L684.92 225.98" stroke="#e4e4e4" stroke-width="0.9"/>
<path d="M764.39 244.89L684.92 193.08" stroke="#e4e4e4" stroke-width="0.9"/>
<path d="M764.39 211.99L684.92 160.18" stroke="#e4e4e4" stroke-width="0.9"/>
<path d="M764.39 179.09L684.92 127.28" stroke="#e4e4e4" stroke-width="0.9"/>
<path d="M764.39 146.19L684.92 94.38" stroke="#e4e4e4" stroke-width="0.9"/>
<path d="M764.39 113.29L684.92 61.48" stroke="#e4e4e4" stroke-width="0.9"/>
<path d="M764.39 80.39L684.92 28.58" stroke="#e4e4e4" stroke-width="0.9"/>
<path d="M684.92 249.60L684.92 9.43" stroke="#e4e4e4" stroke-width="0.9"/>
<path d="M707.89 264.57L707.89 24.40" stroke="#e4e4e4" stroke-width="0.9"/>
<path d="M730.86 279.55L730.86 39.38" stroke="#e4e4e4" stroke-width="0.9"/>
<path d="M753.83 294.52L753.83 54.35" stroke="#e4e4e4" stroke-width="0.9"/>
<path d="M684.92 249.60L684.92 9.43" stroke="#e4e4e4" stroke-width="0.9"/>
<defs><clipPath id="silc"><path d="M620.4 71.6L671.5 47.4L677.7 40.1L698.4 52.4L716.1 60.4L717.9 83.4L720.9 95.0L724.5 127.2L722.1 141.8L719.3 155.0L715.5 173.7L713.8 185.9L712.4 212.0L709.6 233.7L705.9 260.9L700.4 277.6L691.7 289.8L629.5 309.3L618.7 269.3L611.2 252.4L610.0 225.0L610.7 208.2L609.6 184.6L608.5 160.0L609.0 132.4L610.1 118.5L612.1 108.7L614.9 97.5L618.4 83.7Z"/></clipPath></defs>
<path d="M620.4 71.6L671.5 47.4L677.7 40.1L698.4 52.4L716.1 60.4L717.9 83.4L720.9 95.0L724.5 127.2L722.1 141.8L719.3 155.0L715.5 173.7L713.8 185.9L712.4 212.0L709.6 233.7L705.9 260.9L700.4 277.6L691.7 289.8L629.5 309.3L618.7 269.3L611.2 252.4L610.0 225.0L610.7 208.2L609.6 184.6L608.5 160.0L609.0 132.4L610.1 118.5L612.1 108.7L614.9 97.5L618.4 83.7Z" fill="#80cc0a" stroke="none"/>
<path d="M620.4 71.6L648.1 70.0M620.4 71.6L633.1 82.5M620.4 71.6L626.4 87.9M633.1 82.5L626.4 87.9M633.1 82.5L648.1 70.0M618.4 83.7L626.4 87.9M672.5 61.3L698.4 52.4M648.1 70.0L671.5 47.4M648.1 70.0L698.4 75.5M651.5 81.2L698.4 75.5M648.1 70.0L651.5 81.2M672.5 61.3L677.7 40.1M672.5 61.3L671.5 47.4M672.5 61.3L648.1 70.0M698.4 52.4L698.4 75.5M716.1 60.4L698.4 75.5M716.1 60.4L711.3 85.2M698.4 75.5L711.3 85.2M711.3 85.2L717.9 83.4M698.4 75.5L705.2 121.2M698.4 75.5L640.2 118.8M698.4 75.5L668.3 124.7M668.3 124.7L705.2 121.2M705.2 121.2L724.5 127.2M705.2 121.2L712.7 139.9M705.2 121.2L672.8 144.8M705.2 121.2L673.4 168.1M712.7 139.9L724.5 127.2M712.7 139.9L683.7 173.7M712.7 139.9L719.3 155.0M668.3 124.7L672.8 144.8M640.2 118.8L663.4 145.8M626.4 87.9L626.9 110.7M626.9 110.7L640.2 118.8M621.2 111.8L626.9 110.7M648.1 70.0L640.2 118.8M633.1 82.5L640.2 118.8M711.3 85.2L705.2 121.2M717.9 83.4L705.2 121.2M651.5 81.2L668.3 124.7M651.5 81.2L640.2 118.8M621.2 111.8L640.2 118.8M610.1 118.5L640.2 118.8M621.2 111.8L614.0 133.6M614.0 133.6L638.8 129.5M638.8 129.5L640.2 118.8M614.0 133.6L640.2 118.8M648.1 70.0L663.4 145.8M630.1 132.3L622.5 162.4M612.1 108.7L638.8 129.5M621.2 111.8L614.9 97.5M621.2 111.8L626.4 87.9M610.1 118.5L621.2 111.8M614.0 133.6L609.0 132.4M614.0 133.6L622.5 162.4M638.8 129.5L622.5 162.4M638.8 129.5L642.8 153.3M642.8 153.3L663.4 145.8M663.4 145.8L672.8 144.8M663.4 145.8L668.3 124.7M642.8 153.3L622.5 162.4M663.4 145.8L666.9 189.6M642.8 153.3L666.9 189.6M622.5 162.4L623.4 187.8M622.5 162.4L608.5 160.0M623.4 187.8L608.5 160.0M623.4 187.8L673.4 168.1M623.4 187.8L609.6 184.6M623.4 187.8L666.9 189.6M623.4 187.8L673.0 207.0M623.4 187.8L626.7 225.3M666.9 189.6L673.4 168.1M673.4 168.1L672.8 144.8M673.4 168.1L683.7 173.7M683.7 173.7L708.0 184.9M666.9 189.6L708.0 184.9M708.0 184.9L673.0 207.0M673.0 207.0L698.7 199.9M698.7 199.9L710.9 212.1M708.0 184.9L710.9 212.1M708.0 184.9L713.8 185.9M683.7 173.7L705.2 121.2M698.7 199.9L712.4 212.0M626.7 225.3L610.0 225.0M626.7 225.3L611.2 252.4M626.7 225.3L636.5 252.4M626.7 225.3L673.0 207.0M636.5 252.4L611.2 252.4M636.5 252.4L656.1 243.1M656.1 243.1L658.4 228.1M658.4 228.1L673.1 228.1M673.1 228.1L705.9 224.4M673.1 228.1L690.0 255.5M705.9 224.4L690.0 255.5M705.9 224.4L710.9 212.1M705.9 224.4L709.6 233.7M673.0 207.0L663.5 221.5M663.5 221.5L673.1 228.1M673.0 207.0L636.5 252.4M673.1 228.1L656.1 243.1M690.0 255.5L705.9 260.9M690.0 255.5L691.7 262.0M691.7 262.0L691.7 289.8M691.7 262.0L700.4 277.6M691.7 262.0L705.9 260.9M663.4 145.8L673.4 168.1M636.5 252.4L635.0 275.2M611.2 252.4L635.0 275.2M635.0 275.2L629.5 309.3M635.0 275.2L636.1 307.2M636.1 307.2L690.0 255.5M691.7 262.0L646.5 304.0M635.0 275.2L690.0 255.5M656.1 243.1L690.0 255.5M635.0 275.2L618.7 269.3M705.9 224.4L698.7 199.9M673.0 207.0L705.9 224.4M623.4 187.8L610.7 208.2M626.7 225.3L610.7 208.2M666.9 189.6L673.0 207.0M690.0 255.5L634.6 274.1M690.0 255.5L707.1 225.0M626.7 225.3L673.5 208.2M640.2 118.8L662.5 146.6M635.0 275.2L628.5 309.1M623.4 187.8L672.6 207.9" fill="none" stroke="#1c3303" stroke-width="0.9" stroke-linecap="round"/>
<path d="M620.4 71.6L671.5 47.4L677.7 40.1L698.4 52.4L716.1 60.4L717.9 83.4L720.9 95.0L724.5 127.2L722.1 141.8L719.3 155.0L715.5 173.7L713.8 185.9L712.4 212.0L709.6 233.7L705.9 260.9L700.4 277.6L691.7 289.8L629.5 309.3L618.7 269.3L611.2 252.4L610.0 225.0L610.7 208.2L609.6 184.6L608.5 160.0L609.0 132.4L610.1 118.5L612.1 108.7L614.9 97.5L618.4 83.7Z" fill="none" stroke="#1f2d05" stroke-width="0.9" stroke-linejoin="round"/>
<path d="M563.80 295.70L563.80 55.53" stroke="#5a5a5a" stroke-width="1"/>
<path d="M563.80 295.70L643.28 347.51" stroke="#5a5a5a" stroke-width="1"/>
<path d="M643.28 347.51L764.39 301.41" stroke="#5a5a5a" stroke-width="1"/>
<path d="M563.80 272.08l-5.20 -3.40" stroke="#5a5a5a" stroke-width="0.8"/>
<text x="554.60" y="271.68" text-anchor="end" class="t3">65</text>
<path d="M563.80 239.18l-5.20 -3.40" stroke="#5a5a5a" stroke-width="0.8"/>
<text x="554.60" y="238.78" text-anchor="end" class="t3">70</text>
<path d="M563.80 206.28l-5.20 -3.40" stroke="#5a5a5a" stroke-width="0.8"/>
<text x="554.60" y="205.88" text-anchor="end" class="t3">75</text>
<path d="M563.80 173.38l-5.20 -3.40" stroke="#5a5a5a" stroke-width="0.8"/>
<text x="554.60" y="172.98" text-anchor="end" class="t3">80</text>
<path d="M563.80 140.48l-5.20 -3.40" stroke="#5a5a5a" stroke-width="0.8"/>
<text x="554.60" y="140.08" text-anchor="end" class="t3">85</text>
<path d="M563.80 107.58l-5.20 -3.40" stroke="#5a5a5a" stroke-width="0.8"/>
<text x="554.60" y="107.18" text-anchor="end" class="t3">90</text>
<path d="M563.80 74.68l-5.20 -3.40" stroke="#5a5a5a" stroke-width="0.8"/>
<text x="554.60" y="74.28" text-anchor="end" class="t3">95</text>
<path d="M563.80 295.70l-4.5 1.8" stroke="#5a5a5a" stroke-width="0.8"/>
<text x="555.70" y="309.10" text-anchor="end" class="t3">-85</text>
<path d="M586.77 310.68l-4.5 1.8" stroke="#5a5a5a" stroke-width="0.8"/>
<text x="578.67" y="324.07" text-anchor="end" class="t3">-90</text>
<path d="M609.74 325.65l-4.5 1.8" stroke="#5a5a5a" stroke-width="0.8"/>
<text x="601.64" y="339.05" text-anchor="end" class="t3">-95</text>
<path d="M632.71 340.62l-4.5 1.8" stroke="#5a5a5a" stroke-width="0.8"/>
<text x="624.61" y="354.02" text-anchor="end" class="t3">-<tspan class="o1">1</tspan>00</text>
<path d="M649.09 345.30l4.6 2.8" stroke="#5a5a5a" stroke-width="0.8"/>
<text x="656.69" y="360.50" text-anchor="start" class="t3">-<tspan class="o1">1</tspan>0</text>
<path d="M679.04 333.90l4.6 2.8" stroke="#5a5a5a" stroke-width="0.8"/>
<text x="686.64" y="349.10" text-anchor="start" class="t3">-5</text>
<path d="M708.99 322.50l4.6 2.8" stroke="#5a5a5a" stroke-width="0.8"/>
<text x="716.59" y="337.70" text-anchor="start" class="t3">0</text>
<path d="M738.94 311.10l4.6 2.8" stroke="#5a5a5a" stroke-width="0.8"/>
<text x="746.54" y="326.30" text-anchor="start" class="t3">5</text>
<text transform="translate(537.2,175.4) rotate(-90)" text-anchor="middle" class="l3">Y(mm)</text>
<text x="554" y="363.7" class="l3">X(mm)</text>
<text y="32" style="font-size:12.5px;fill:#1a1a1a"><tspan x="634.1">Volume</tspan><tspan x="678.6">=</tspan><tspan x="688.0">4832</tspan><tspan x="719.2">mm</tspan></text>
<text x="740.2" y="27.8" style="font-size:7.6px;fill:#1a1a1a">3</text>
<text x="706" y="364.6" class="l3">Z(mm)</text>
<path transform="translate(34.53,38.30) scale(0.005518,-0.005518)" d="M490 0L490 1200L180 985L180 1180L520 1409L720 1409L720 0Z" fill="#262626"/>
<path transform="translate(34.53,275.90) scale(0.005518,-0.005518)" d="M490 0L490 1200L180 985L180 1180L520 1409L720 1409L720 0Z" fill="#262626"/>
<path transform="translate(34.53,335.30) scale(0.005518,-0.005518)" d="M490 0L490 1200L180 985L180 1180L520 1409L720 1409L720 0Z" fill="#262626"/>
<path transform="translate(251.70,346.50) scale(0.005518,-0.005518)" d="M490 0L490 1200L180 985L180 1180L520 1409L720 1409L720 0Z" fill="#262626"/>
<path transform="translate(302.81,38.30) scale(0.005518,-0.005518)" d="M490 0L490 1200L180 985L180 1180L520 1409L720 1409L720 0Z" fill="#262626"/>
<path transform="translate(302.81,97.70) scale(0.005518,-0.005518)" d="M490 0L490 1200L180 985L180 1180L520 1409L720 1409L720 0Z" fill="#262626"/>
<path transform="translate(302.81,335.30) scale(0.005518,-0.005518)" d="M490 0L490 1200L180 985L180 1180L520 1409L720 1409L720 0Z" fill="#262626"/>
<path transform="translate(512.70,346.50) scale(0.005518,-0.005518)" d="M490 0L490 1200L180 985L180 1180L520 1409L720 1409L720 0Z" fill="#262626"/>
<path transform="translate(607.41,354.02) scale(0.005029,-0.005029)" d="M490 0L490 1200L180 985L180 1180L520 1409L720 1409L720 0Z" fill="#262626"/>
<path transform="translate(660.13,360.50) scale(0.005029,-0.005029)" d="M490 0L490 1200L180 985L180 1180L520 1409L720 1409L720 0Z" fill="#262626"/>
</svg></body></html>
